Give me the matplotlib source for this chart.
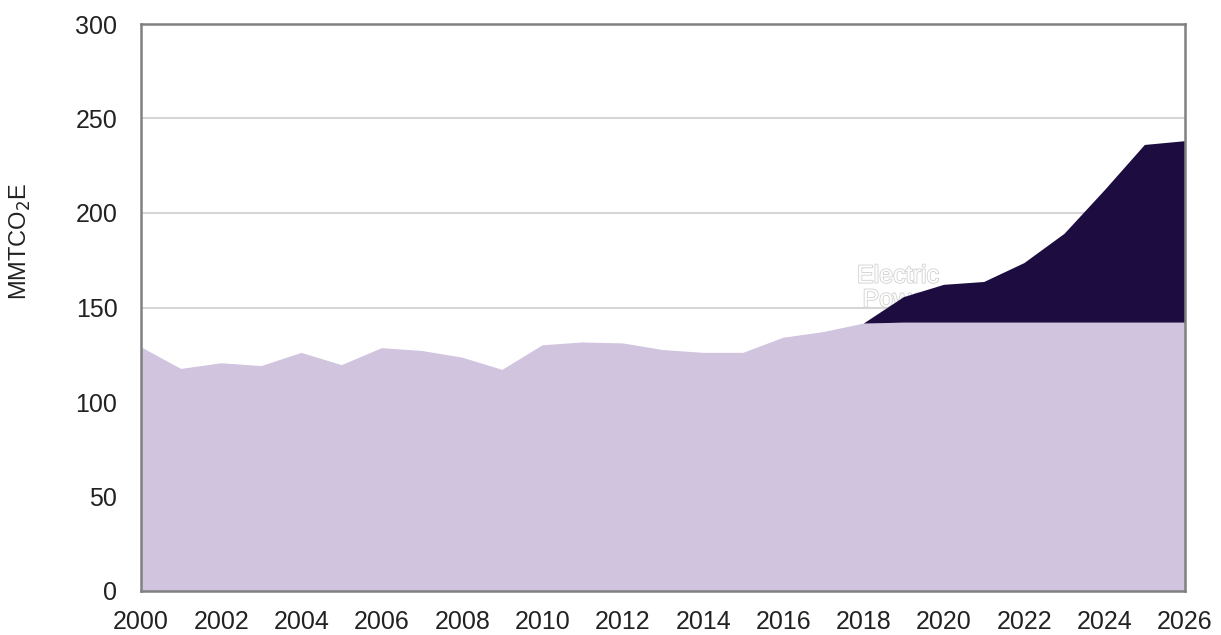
import matplotlib
matplotlib.use("Agg")
import matplotlib.pyplot as plt
import matplotlib.patheffects as pe

years = list(range(2000, 2027))
baseline = [129, 117.5, 120.5, 119, 126, 119.5, 128.5, 127, 123.5, 117,
            130, 131.5, 131, 127.5, 126, 126, 134, 137, 141.5,
            142, 142, 142, 142, 142, 142, 142, 142]
electric_power = [0] * 19 + [13.5, 20, 21.5, 31.5, 47, 70, 94, 96]
xticks = list(range(2000, 2027, 2))
yticks = [0, 50, 100, 150, 200, 250, 300]

plt.rcParams['font.family'] = ['Liberation Sans', 'DejaVu Sans']

fig = plt.figure(figsize=(12.21, 6.35), dpi=100)
ax = fig.add_axes([141/1221, 1 - 591/635, (1185-141)/1221, (591-24)/635])

ax.yaxis.grid(True, color='#d6d6d6', linewidth=1.5, zorder=0)
ax.set_axisbelow(True)
ax.stackplot(years, baseline, electric_power,
             colors=['#d0c4df', '#1c0c40'], zorder=2)

ax.text(2018.85, 160.5, 'Electric\nPower', color='white', fontsize=18,
        ha='center', va='center', linespacing=1.0, zorder=1,
        path_effects=[pe.withStroke(linewidth=1.2, foreground='#d0d0d0')])

ax.set_xlim(2000, 2026)
ax.set_ylim(0, 300)
ax.set_xticks(xticks)
ax.set_yticks(yticks)
ax.tick_params(axis='y', length=0, labelsize=18, colors='#222222', pad=17)
ax.tick_params(axis='x', length=0, labelsize=18, colors='#222222', pad=14)
for s in ax.spines.values():
    s.set_color('#808080')
    s.set_linewidth(1.8)
ax.set_ylabel('MMTCO$_2$E', fontsize=17, color='#222222')
ax.yaxis.set_label_coords(-0.1034, 0.617)

fig.savefig('out.png', dpi=100)
